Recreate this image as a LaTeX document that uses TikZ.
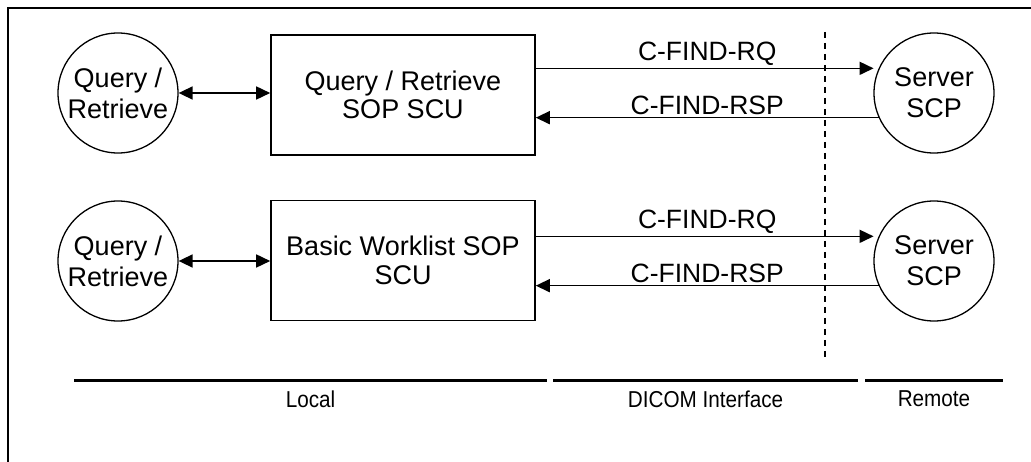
\documentclass[tikz,border=0pt]{standalone}
\usepackage{fontspec}
\setmainfont{Liberation Sans}
\newfontfamily\narrowsans[FakeStretch=0.9]{Liberation Sans}
\usepackage{tikz}
\usetikzlibrary{positioning}
\usetikzlibrary{shapes,arrows,calc,arrows.meta}

\tikzset{
  entity/.style={draw, circle, line width=1.3pt, minimum size=120pt, inner sep=0pt,
    align=center, font=\fontsize{27}{31}\selectfont},
  sopbox/.style={draw, rectangle, line width=1.6pt, minimum width=264pt, minimum height=120pt,
    inner sep=0pt, align=center, font=\fontsize{27}{28.5}\selectfont},
  msg/.style={line width=1.6pt, -{Triangle[length=14pt,width=13pt]}},
  link/.style={line width=1.6pt, {Triangle[length=14pt,width=13pt]}-{Triangle[length=14pt,width=13pt]}},
  msglabel/.style={above=2pt, inner sep=0pt, font=\fontsize{26.5}{28}\selectfont},
  bar/.style={line width=3pt},
  barlabel/.style={below=6pt, inner sep=3pt, font=\narrowsans\fontsize{23}{25}\selectfont}
}

\begin{document}
\begin{tikzpicture}[x=1pt, y=-1pt]
  \useasboundingbox (0,0) rectangle (1031,462);

  % Draw the frame (cut at right and bottom)
  \draw[line width=1.5pt] (8,462) -- (8,8) -- (1031,8);

  % Draw the first row
  \node[entity] (qr1) at (118,93) {Query /\\Retrieve};
  \node[sopbox] (qrscu) at (403,95) {Query / Retrieve\\SOP SCU};
  \node[entity] (srv1) at (934,93) {Server\\SCP};

  % Draw the second row
  \node[entity] (qr2) at (118,261) {Query /\\Retrieve};
  \node[sopbox] (wlscu) at (403,260.5) {Basic Worklist SOP\\SCU};
  \node[entity] (srv2) at (934,261) {Server\\SCP};

  % Draw the local links
  \draw[link] (qr1.east) -- (qr1.east -| qrscu.west);
  \draw[link] (qr2.east) -- (qr2.east -| wlscu.west);

  % Draw the messages
  \draw[msg, shorten >=5pt] (qrscu.east |- srv1.156) -- (srv1.156) node[msglabel, midway] {C-FIND-RQ};
  \draw[msg] (srv1.204) -- (srv1.204 -| qrscu.east) node[msglabel, midway] {C-FIND-RSP};
  \draw[msg, shorten >=5pt] (wlscu.east |- srv2.156) -- (srv2.156) node[msglabel, midway] {C-FIND-RQ};
  \draw[msg] (srv2.204) -- (srv2.204 -| wlscu.east) node[msglabel, midway] {C-FIND-RSP};

  % Draw the dashed interface border
  \draw[line width=1.3pt, dash pattern=on 6pt off 5pt] (825,32) -- (825,361);

  % Draw the bars and their labels
  \draw[bar] (74,380) -- (547,380) node[barlabel, midway] {Local};
  \draw[bar] (553,380) -- (858,380) node[barlabel, midway] {DICOM Interface};
  \draw[bar] (865,380) -- (1003,380) node[barlabel, midway] {Remote};
\end{tikzpicture}
\end{document}
